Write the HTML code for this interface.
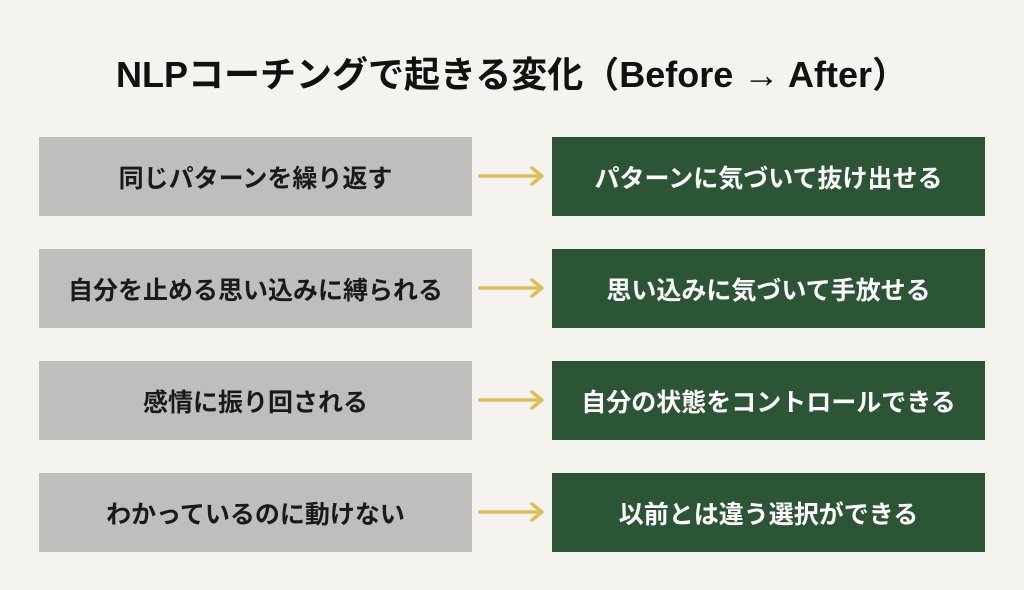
<!DOCTYPE html>
<html><head><meta charset="utf-8"><style>
body{margin:0;width:1024px;height:590px;background:#f4f3ef;font-family:"Liberation Sans","Noto Sans CJK JP",sans-serif;position:relative;overflow:hidden}
h1{position:absolute;top:48px;left:0;width:1024px;margin:0;text-align:center;font-size:36px;font-weight:bold;color:#111;line-height:54px;white-space:nowrap}
.b{position:absolute;height:79px;display:flex;align-items:center;justify-content:center;font-weight:bold;font-size:25px;white-space:nowrap}
.l{left:39px;width:433px;background:#bebebc;color:#1a1a1a}
.r{left:552px;width:433px;background:#2b5535;color:#fff}
svg{position:absolute;left:478px;width:68px;height:20px}
</style></head><body>
<h1>NLPコーチングで起きる変化（Before → After）</h1>
<div class="b l" style="top:137px">同じパターンを繰り返す</div>
<div class="b r" style="top:137px">パターンに気づいて抜け出せる</div>
<div class="b l" style="top:249px">自分を止める思い込みに縛られる</div>
<div class="b r" style="top:249px">思い込みに気づいて手放せる</div>
<div class="b l" style="top:361px">感情に振り回される</div>
<div class="b r" style="top:361px">自分の状態をコントロールできる</div>
<div class="b l" style="top:473px">わかっているのに動けない</div>
<div class="b r" style="top:473px">以前とは違う選択ができる</div>
<svg style="top:166px" viewBox="0 0 68 20"><path d="M2 10H64M54 2L64 10L54 18" fill="none" stroke="#e0bf52" stroke-width="3.5" stroke-linecap="round" stroke-linejoin="round"/></svg>
<svg style="top:278px" viewBox="0 0 68 20"><path d="M2 10H64M54 2L64 10L54 18" fill="none" stroke="#e0bf52" stroke-width="3.5" stroke-linecap="round" stroke-linejoin="round"/></svg>
<svg style="top:390px" viewBox="0 0 68 20"><path d="M2 10H64M54 2L64 10L54 18" fill="none" stroke="#e0bf52" stroke-width="3.5" stroke-linecap="round" stroke-linejoin="round"/></svg>
<svg style="top:502px" viewBox="0 0 68 20"><path d="M2 10H64M54 2L64 10L54 18" fill="none" stroke="#e0bf52" stroke-width="3.5" stroke-linecap="round" stroke-linejoin="round"/></svg>
</body></html>
